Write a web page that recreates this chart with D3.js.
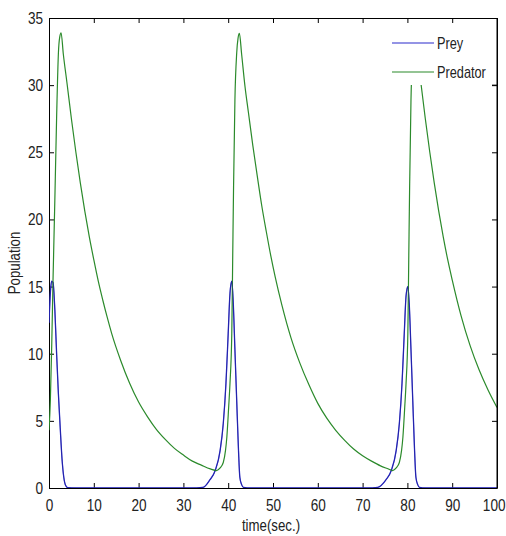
<!DOCTYPE html>
<html>
<head>
<meta charset="utf-8">
<script src="https://cdn.jsdelivr.net/npm/d3@7"></script>
<style>
  html, body { margin: 0; padding: 0; background: #fff; }
  svg text { font-family: "Liberation Sans", Arial, sans-serif; fill: #222; }
</style>
</head>
<body>
<svg id="chart" width="506" height="536"></svg>
<script>
// ---- data ----
const xTicks = [0, 10, 20, 30, 40, 50, 60, 70, 80, 90, 100];
const yTicks = [0, 5, 10, 15, 20, 25, 30, 35];
const seriesNames = ["Prey", "Predator"];

const preyTime = [0,0.3,0.6,0.9,1.3,1.7,2.1,2.5,2.9,3.3,3.7,4.2,6,
  31.5,34.4,35.9,37.1,38.2,38.9,39.5,40.0,40.4,40.8,41.1,41.5,41.9,42.3,42.6,43.0,43.4,45,
  71,73.4,75.2,76.4,77.5,78.2,78.8,79.3,79.7,80.1,80.4,80.8,81.2,81.6,81.9,82.3,82.7,84,100];
const preyValues = [12.3,14.5,15.4,15.3,13.3,10.0,7.0,4.5,2.2,0.8,0.2,0.02,0,
  0,0.05,0.6,1.3,2.8,4.8,7.8,11.5,14.5,15.4,14.0,10.3,6.5,2.8,0.8,0.25,0.05,0,
  0,0.05,0.6,1.3,2.8,4.8,7.8,11.5,14.3,15.0,13.8,10.3,6.5,2.8,0.8,0.25,0.05,0,0];

const predatorTime = [0,0.3,0.6,0.9,1.3,1.7,2.1,2.4,2.7,
  3.2,4,5,6,7,8,9,10,11,12,13,14,
  16,18,20,22,24,26,28,30,32,34,36,37.4,
  38.2,38.9,39.4,39.7,40.1,40.4,40.8,41.0,41.2,41.5,41.9,42.2,42.5,
  43.0,43.75,44.5,45.5,46.5,47.5,48.5,49.5,50.5,52,54,56,58,60,62,64,66,68,70,72,74,75.5,76.7,
  77.5,78.2,78.7,79.0,79.4,79.7,80.1,80.3,80.5,80.8,81.2,81.5,81.8,
  82.3,83,84,85,86,87,88,89,90,92,94,96,98,100];
const predatorValues = [4.3,6.5,10.5,15.5,21.4,27.6,32.4,33.6,33.9,
  32.3,30.2,27.5,25.0,22.7,20.6,18.7,17.0,15.4,14.0,12.7,11.5,
  9.5,7.8,6.4,5.3,4.35,3.6,2.95,2.45,2.0,1.7,1.42,1.3,
  1.5,1.9,2.8,3.8,6.0,7.8,11.5,17,22.5,28.9,32.4,33.5,33.85,
  32.3,29.9,28.0,25.5,23.2,21.0,19.1,17.3,15.7,13.6,11.2,9.3,7.7,6.3,5.2,4.3,3.55,2.9,2.4,2.0,1.65,1.45,1.3,
  1.5,1.9,2.8,3.8,6.0,7.8,11.5,17,22.5,28.9,32.4,33.5,33.85,
  32.3,30.2,27.5,25.0,22.7,20.6,18.7,17.0,15.5,12.8,10.6,8.8,7.3,6.0];

// ---- layout ----
const margin = { left: 49, right: 9, top: 18, bottom: 48 };
const W = 506, H = 536;
const svg = d3.select("#chart");
const x = d3.scaleLinear().domain([0, 100]).range([margin.left, W - margin.right]);
const y = d3.scaleLinear().domain([0, 35]).range([H - margin.bottom, margin.top]);

const colors = { Prey: "#2a2acb", Predator: "#2b8a2b" };

// condense text horizontally around its anchor point
function narrow(sel, sx) {
  sel.each(function () {
    const t = d3.select(this);
    const x0 = +t.attr("x") || 0;
    const prev = t.attr("transform") || "";
    t.attr("transform", `${prev} translate(${x0 * (1 - sx)},0) scale(${sx},1)`);
  });
}

svg.append("defs").append("clipPath").attr("id", "clip")
  .append("rect")
  .attr("x", x(0)).attr("y", y(35))
  .attr("width", x(100) - x(0)).attr("height", y(0) - y(35));

// axes box
const tickLen = 5;
const gBottom = svg.append("g").attr("transform", `translate(0,${y(0)})`)
  .call(d3.axisBottom(x).tickValues(xTicks).tickSizeInner(-tickLen).tickSizeOuter(0).tickPadding(10));
const gTop = svg.append("g").attr("transform", `translate(0,${y(35)})`)
  .call(d3.axisTop(x).tickValues(xTicks).tickSizeInner(-tickLen).tickSizeOuter(0).tickFormat(""));
const gLeft = svg.append("g").attr("transform", `translate(${x(0)},0)`)
  .call(d3.axisLeft(y).tickValues(yTicks).tickSizeInner(-tickLen).tickSizeOuter(0).tickPadding(6));
const gRight = svg.append("g").attr("transform", `translate(${x(100)},0)`)
  .call(d3.axisRight(y).tickValues(yTicks).tickSizeInner(-tickLen).tickSizeOuter(0).tickFormat(""));

[gBottom, gTop, gLeft, gRight].forEach(g => {
  g.select(".domain").attr("stroke", "#000").attr("stroke-width", 1);
  g.selectAll(".tick line").attr("stroke", "#000");
  g.selectAll("text").style("font-size", "17px").attr("fill", "#222");
});
gBottom.selectAll(".tick text").attr("dy", "0.75em");
// keep the last label inside the page
gBottom.selectAll(".tick text").filter(d => d === 100).attr("text-anchor", "end").attr("x", 8);
narrow(gBottom.selectAll(".tick text"), 0.8);
narrow(gLeft.selectAll(".tick text"), 0.8);

// lines
const line = d3.line().x(d => x(d[0])).y(d => y(d[1])).curve(d3.curveMonotoneX);
const preyData = preyTime.map((t, i) => [t, preyValues[i]]);
const predatorData = predatorTime.map((t, i) => [t, predatorValues[i]]);

const plot = svg.append("g").attr("clip-path", "url(#clip)");
plot.append("path").datum(preyData)
  .attr("d", line).attr("fill", "none")
  .attr("stroke", colors.Prey).attr("stroke-width", 1.3);
plot.append("path").datum(predatorData)
  .attr("d", line).attr("fill", "none")
  .attr("stroke", colors.Predator).attr("stroke-width", 1.2);
plot.append("path").datum(preyData)
  .attr("d", line).attr("fill", "none")
  .attr("stroke", "#1c1c8a").attr("stroke-width", 1).attr("stroke-opacity", 0.5);

// legend
const lg = svg.append("g");
lg.append("rect").attr("x", 386).attr("y", 26).attr("width", x(100) - 386 - 0.5).attr("height", 59)
  .attr("fill", "#fff");
seriesNames.forEach((name, i) => {
  const yy = 43 + i * 29;
  lg.append("line").attr("x1", 392).attr("x2", 434).attr("y1", yy).attr("y2", yy)
    .attr("stroke", colors[name]).attr("stroke-width", 1.2);
  const t = lg.append("text").attr("x", 437).attr("y", yy + 6).style("font-size", "17px").text(name);
  narrow(t, 0.75);
});
svg.append("line").attr("x1", x(100)).attr("x2", x(100)).attr("y1", y(35)).attr("y2", y(0))
  .attr("stroke", "#000");
svg.append("line").attr("x1", x(100)).attr("x2", x(100) - tickLen).attr("y1", y(30)).attr("y2", y(30))
  .attr("stroke", "#000");

// axis labels
const xl = svg.append("text").attr("x", 271).attr("y", 531).attr("text-anchor", "middle")
  .style("font-size", "17px").text("time(sec.)");
narrow(xl, 0.78);
svg.append("text").attr("transform", "translate(20,263) rotate(-90) scale(0.78,1)")
  .attr("text-anchor", "middle").style("font-size", "17px").text("Population");
</script>
</body>
</html>
